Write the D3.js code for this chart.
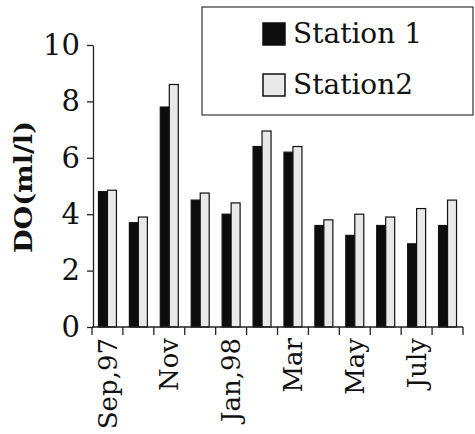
<!DOCTYPE html>
<html>
<head>
<meta charset="utf-8">
<script src="https://cdn.jsdelivr.net/npm/d3@7"></script>
<style>
  html, body { margin: 0; padding: 0; background: #fff; }
  svg { display: block; }
  text { font-family: "DejaVu Serif", "Liberation Serif", serif; fill: #111; }
</style>
</head>
<body>
<svg id="chart" width="475" height="434"></svg>
<script>
// Monthly dissolved oxygen at two stations, Sep 1997 - Aug 1998
const months = ["Sep,97", "Oct", "Nov", "Dec", "Jan,98", "Feb", "Mar", "Apr", "May", "Jun", "July", "Aug"];
const monthLabels = ["Sep,97", "", "Nov", "", "Jan,98", "", "Mar", "", "May", "", "July", ""];
const seriesNames = ["Station 1", "Station2"];
const station1 = [4.8, 3.7, 7.8, 4.5, 4.0, 6.4, 6.2, 3.6, 3.25, 3.6, 2.95, 3.6];
const station2 = [4.85, 3.9, 8.6, 4.75, 4.4, 6.95, 6.4, 3.8, 4.0, 3.9, 4.2, 4.5];
const yTicks = [0, 2, 4, 6, 8, 10];
const yTitle = "DO(ml/l)";

const svg = d3.select("#chart");

const x = d3.scaleBand().domain(months).range([92, 463]).paddingInner(0).paddingOuter(0);
const xs = d3.scaleBand().domain(seriesNames).range([0, x.bandwidth()]).paddingInner(0).paddingOuter(0.72);
const y = d3.scaleLinear().domain([0, 10]).range([327, 45]);

const fills = { "Station 1": "#0d0d0d", "Station2": "#e9e9e9" };

// bars
const rows = months.map((m, i) => ({ month: m, values: [
  { key: "Station 1", v: station1[i] },
  { key: "Station2", v: station2[i] }
]}));

const groups = svg.append("g").selectAll("g").data(rows).join("g")
  .attr("transform", d => `translate(${x(d.month)},0)`);

groups.selectAll("rect").data(d => d.values).join("rect")
  .attr("x", d => xs(d.key))
  .attr("width", xs.bandwidth())
  .attr("y", d => y(d.v))
  .attr("height", d => y(0) - y(d.v))
  .attr("fill", d => fills[d.key])
  .attr("stroke", "#111")
  .attr("stroke-width", 1.2);

// y axis
const yAxis = d3.axisLeft(y).tickValues(yTicks).tickSize(6).tickSizeOuter(0).tickPadding(7);
const gy = svg.append("g").attr("transform", "translate(93,0)").call(yAxis);
gy.select(".domain").attr("stroke", "#222").attr("stroke-width", 1.3);
gy.selectAll(".tick line").attr("stroke", "#222").attr("stroke-width", 1.3);
gy.selectAll(".tick text")
  .attr("font-family", "DejaVu Serif, serif")
  .attr("font-size", 29)
  .attr("fill", "#111");

// x axis: baseline with ticks on category boundaries
const gx = svg.append("g");
gx.append("line")
  .attr("x1", x.range()[0]).attr("x2", x.range()[1])
  .attr("y1", y(0)).attr("y2", y(0))
  .attr("stroke", "#222").attr("stroke-width", 1.3);
const edges = months.map(m => x(m)).concat([x.range()[1]]);
gx.selectAll("line.edge").data(edges).join("line")
  .attr("class", "edge")
  .attr("x1", d => d).attr("x2", d => d)
  .attr("y1", y(0)).attr("y2", y(0) + 8)
  .attr("stroke", "#222").attr("stroke-width", 1.3);

gx.selectAll("text").data(months.map((m, i) => ({ m, label: monthLabels[i] })).filter(d => d.label))
  .join("text")
  .attr("transform", d => `translate(${x(d.m) + x.bandwidth() / 2},${y(0) + 11}) rotate(-90)`)
  .attr("text-anchor", "end")
  .attr("dy", "0.35em")
  .attr("font-size", 26)
  .text(d => d.label);

// y title
svg.append("text")
  .attr("transform", "translate(23,187) rotate(-90)")
  .attr("text-anchor", "middle")
  .attr("dy", "0.35em")
  .attr("font-weight", "bold")
  .attr("font-size", 25)
  .attr("textLength", 132)
  .attr("lengthAdjust", "spacingAndGlyphs")
  .text(yTitle);

// legend
const lg = svg.append("g");
lg.append("rect")
  .attr("x", 202).attr("y", 7).attr("width", 271).attr("height", 108)
  .attr("fill", "#fff").attr("stroke", "#333").attr("stroke-width", 1.2);
const legendRows = lg.selectAll("g").data(seriesNames).join("g")
  .attr("transform", (d, i) => `translate(263,${23 + i * 51})`);
legendRows.append("rect")
  .attr("width", 22).attr("height", 22)
  .attr("fill", d => fills[d])
  .attr("stroke", "#111").attr("stroke-width", 1.5);
legendRows.append("text")
  .attr("x", 30).attr("y", 20)
  .attr("font-size", 28)
  .text(d => d);
</script>
</body>
</html>
